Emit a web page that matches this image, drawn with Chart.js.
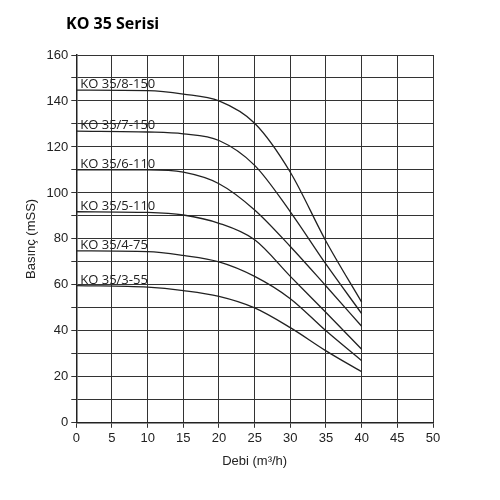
<!DOCTYPE html>
<html>
<head>
<script src="https://cdn.jsdelivr.net/npm/chart.js"></script>
<style>
  body { margin: 0; background: #fff; font-family: 'Open Sans', sans-serif; }
  #wrap { position: relative; width: 500px; height: 500px; }
  h1 { position: absolute; left: 66px; top: 12px; margin: 0; font-size: 16px; font-weight: bold; }
</style>
</head>
<body>
<div id="wrap">
  <h1>KO 35 Serisi</h1>
  <canvas id="c" width="500" height="500"></canvas>
</div>
<script>
var flows = [0, 10, 15, 20, 25, 30, 35, 40];
var pumps = ["KO 35/8-150", "KO 35/7-150", "KO 35/6-110", "KO 35/5-110", "KO 35/4-75", "KO 35/3-55"];
var head8 = [144.7, 144.5, 143, 140, 130.3, 109, 79, 52.5];
var head7 = [126.9, 126.5, 125.7, 122.8, 112, 91.8, 69, 47.5];
var head6 = [110, 110, 109, 104, 92.6, 76.7, 59.5, 42];
var head5 = [91.8, 91.5, 90.4, 86.8, 79.6, 63.7, 48, 32];
var head4 = [74.8, 74.5, 72.8, 70, 63.7, 54, 40, 27];
var head3 = [59.7, 59, 57.5, 55, 50, 41.4, 31.3, 22.2];
var heads = [head8, head7, head6, head5, head4, head3];

var labelPlugin = {
  id: "curveLabels",
  afterDatasetsDraw: function(chart) {
    var ctx = chart.ctx, x = chart.scales.x, y = chart.scales.y;
    ctx.save();
    ctx.font = "13px 'Open Sans', sans-serif";
    ctx.fillStyle = "#222";
    ctx.textBaseline = "bottom";
    pumps.forEach(function(name, i) {
      ctx.fillText(name, x.getPixelForValue(0) + 4, y.getPixelForValue(heads[i][0]) + 1);
    });
    ctx.restore();
  }
};

new Chart(document.getElementById("c"), {
  type: "line",
  data: {
    datasets: pumps.map(function(name, i) {
      return {
        label: name,
        data: flows.map(function(f, j) { return { x: f, y: heads[i][j] }; }),
        borderColor: "#222",
        borderWidth: 1.3,
        pointRadius: 0,
        cubicInterpolationMode: "monotone"
      };
    })
  },
  options: {
    responsive: false,
    animation: false,
    layout: { padding: { top: 55, right: 67, bottom: 27, left: 20 } },
    plugins: { legend: { display: false }, tooltip: { enabled: false } },
    scales: {
      x: {
        type: "linear", min: 0, max: 50,
        ticks: { stepSize: 5, color: "#222", font: { size: 13 } },
        grid: { color: "#333", lineWidth: 1, tickLength: 5 },
        border: { color: "#222", width: 1.5 },
        title: { display: true, text: "Debi (m³/h)", color: "#222", font: { size: 13 } }
      },
      y: {
        min: 0, max: 160,
        ticks: { stepSize: 10, color: "#222", font: { size: 13 },
          callback: function(v) { return v % 20 === 0 ? v : ""; } },
        grid: { color: "#333", lineWidth: 1, tickLength: 5 },
        border: { color: "#222", width: 1.5 },
        title: { display: true, text: "Basınç (mSS)", color: "#222", font: { size: 13 } }
      }
    }
  },
  plugins: [labelPlugin]
});
</script>
</body>
</html>
